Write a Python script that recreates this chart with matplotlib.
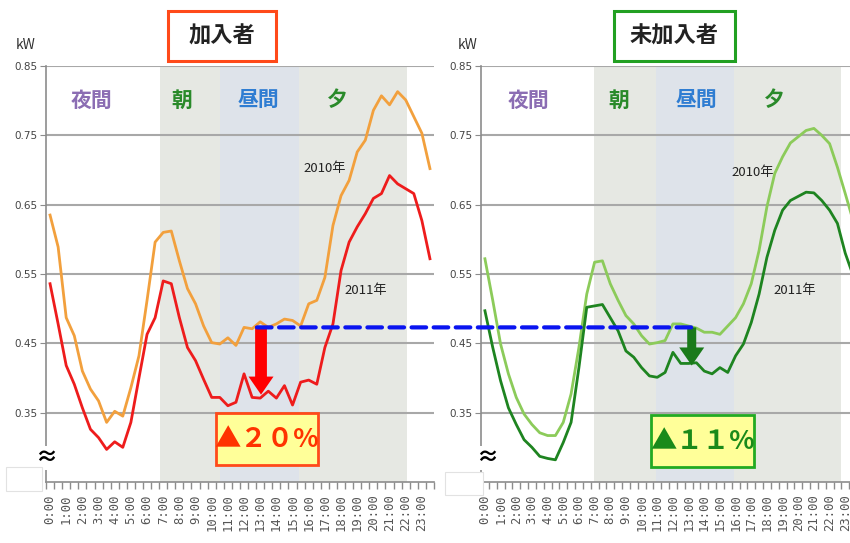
import numpy as np
import matplotlib
matplotlib.use('Agg')
import matplotlib.pyplot as plt
from matplotlib.patches import Rectangle, ConnectionPatch

plt.rcParams['font.family'] = ['Noto Sans CJK JP', 'DejaVu Sans']

# ---------------- data ----------------
hour_labels = [f"{h}:00" for h in range(24)]
slots = np.arange(48)  # half-hour slots 0:00 .. 23:30

join_2010 = [0.635, 0.589, 0.487, 0.461, 0.410, 0.384, 0.367, 0.336, 0.352, 0.345,
             0.386, 0.432, 0.512, 0.596, 0.610, 0.612, 0.569, 0.529, 0.507, 0.475,
             0.451, 0.449, 0.458, 0.447, 0.473, 0.471, 0.481, 0.473, 0.478, 0.485,
             0.483, 0.475, 0.507, 0.512, 0.545, 0.620, 0.663, 0.685, 0.726, 0.743,
             0.786, 0.807, 0.794, 0.813, 0.801, 0.777, 0.753, 0.702]
join_2011 = [0.536, 0.478, 0.418, 0.391, 0.357, 0.326, 0.314, 0.297, 0.308, 0.300,
             0.336, 0.400, 0.463, 0.487, 0.540, 0.536, 0.487, 0.444, 0.425, 0.398,
             0.372, 0.372, 0.360, 0.365, 0.406, 0.372, 0.371, 0.381, 0.371, 0.389,
             0.361, 0.394, 0.397, 0.391, 0.444, 0.478, 0.555, 0.596, 0.618, 0.637,
             0.659, 0.666, 0.692, 0.680, 0.673, 0.666, 0.627, 0.572]
nonjoin_2010 = [0.572, 0.512, 0.449, 0.406, 0.372, 0.348, 0.333, 0.321, 0.317, 0.317,
                0.336, 0.377, 0.444, 0.521, 0.567, 0.569, 0.536, 0.512, 0.490, 0.478,
                0.461, 0.449, 0.451, 0.454, 0.478, 0.478, 0.475, 0.472, 0.466, 0.466,
                0.463, 0.475, 0.487, 0.507, 0.536, 0.584, 0.647, 0.695, 0.719, 0.739,
                0.748, 0.757, 0.760, 0.750, 0.738, 0.704, 0.666, 0.627]
nonjoin_2011 = [0.497, 0.444, 0.396, 0.357, 0.333, 0.311, 0.300, 0.287, 0.284, 0.282,
                0.307, 0.336, 0.415, 0.502, 0.504, 0.506, 0.487, 0.468, 0.439, 0.430,
                0.415, 0.403, 0.401, 0.408, 0.437, 0.421, 0.421, 0.422, 0.410, 0.406,
                0.415, 0.408, 0.432, 0.449, 0.480, 0.521, 0.574, 0.613, 0.642, 0.656,
                0.662, 0.668, 0.667, 0.656, 0.642, 0.623, 0.580, 0.548]

panel_titles = ['加入者', '未加入者']
period_labels = ['夜間', '朝', '昼間', '夕']
year_labels = ['2010年', '2011年']
reduction_labels = ['▲２０%', '▲１１%']
y_ticks = [0.35, 0.45, 0.55, 0.65, 0.75, 0.85]
unit_label = 'kW'

# ---------------- layout ----------------
W, H = 850, 543
fig = plt.figure(figsize=(W / 100, H / 100), dpi=100)


def px_axes(x0, x1, y0, y1):
    return fig.add_axes([x0 / W, 1 - y1 / H, (x1 - x0) / W, (y1 - y0) / H])


ax1 = px_axes(46, 434, 66, 482)
ax2 = px_axes(481, 857, 66, 482)

period_colors = ['#8B6DB3', '#2A8A2A', '#2F7DD2', '#2A8A2A']

panels = [
    dict(ax=ax1, s10=join_2010, s11=join_2011, c10='#F2A03D', c11='#EE1C1C',
         grey=(13.6, 44.1), blue=(21.0, 30.8), lab_x=[5.15, 16.3, 25.8, 35.5],
         y10=(34.0, 0.702), y11=(39.1, 0.526), box=(20.5, 33.1, 0.275, 0.349),
         box_edge='#FF4A1A', box_text='#FF3300', arrow_x=26.1, arrow=(0.475, 0.376),
         arrow_col='#FF0000', shaft=8.5, title_box=(168, 276), title_edge='#FF4A1A',
         kw_x=26, approx_x=0.0),
    dict(ax=ax2, s10=nonjoin_2010, s11=nonjoin_2011, c10='#8CCB5A', c11='#1E8420',
         grey=(13.96, 45.5), blue=(21.8, 31.8), lab_x=[5.6, 17.1, 27.0, 37.0],
         y10=(34.2, 0.696), y11=(39.5, 0.526), box=(21.2, 34.3, 0.272, 0.346),
         box_edge='#22AA22', box_text='#1A8A1A', arrow_x=26.4, arrow=(0.473, 0.418),
         arrow_col='#1A7A1A', shaft=6.5, title_box=(614, 735), title_edge='#22A022',
         kw_x=468, approx_x=0.016),
]

for i, p in enumerate(panels):
    ax = p['ax']
    ax.set_xlim(-0.5, 47.5)
    ax.set_ylim(0.25, 0.85)
    ax.axvspan(*p['grey'], color='#E6E8E3', zorder=0.2, lw=0)
    ax.axvspan(*p['blue'], color='#DEE3EA', zorder=0.3, lw=0)
    ax.set_axisbelow(True)
    ax.grid(axis='y', color='#A8A8A8', lw=1.5, zorder=0.5)
    ax.set_facecolor('white')

    ax.plot(slots, p['s10'], color=p['c10'], lw=2.0, zorder=3)
    ax.plot(slots, p['s11'], color=p['c11'], lw=2.0, zorder=3)

    for sp in ['top', 'right']:
        ax.spines[sp].set_visible(False)
    for sp in ['left', 'bottom']:
        ax.spines[sp].set_color('#8C8C8C')
        ax.spines[sp].set_linewidth(1.2)

    ax.set_yticks(y_ticks)
    ax.set_yticklabels([f"{v:.2f}" for v in y_ticks], fontsize=7.5, color='#444444',
                       family=['Liberation Sans Narrow', 'DejaVu Sans'])
    ax.tick_params(axis='y', length=4, color='#8C8C8C', pad=2)

    ax.set_xticks(np.arange(-0.5, 48, 1))
    ax.set_xticklabels([])
    ax.tick_params(axis='x', which='major', length=5, color='#8C8C8C', width=1)
    ax.set_xticks(slots[::2], minor=True)
    ax.set_xticklabels(hour_labels, minor=True, rotation=90, fontsize=8.8,
                       color='#555555', family='DejaVu Sans Mono')
    ax.tick_params(axis='x', which='minor', length=0, pad=9)

    for lab, lx, col in zip(period_labels, p['lab_x'], period_colors):
        ax.text(lx, 0.801, lab, color=col, fontsize=15, fontweight='bold',
                ha='center', va='center', zorder=4)

    ax.text(*p['y10'], year_labels[0], fontsize=9.5, color='#222222', ha='center',
            va='center', zorder=4)
    ax.text(*p['y11'], year_labels[1], fontsize=9.5, color='#222222', ha='center',
            va='center', zorder=4)

    bx0, bx1, by0, by1 = p['box']
    ax.add_patch(Rectangle((bx0, by0), bx1 - bx0, by1 - by0, facecolor='#FFFF99',
                           edgecolor=p['box_edge'], lw=2, zorder=5))
    ax.text((bx0 + bx1) / 2, (by0 + by1) / 2, reduction_labels[i], color=p['box_text'],
            fontsize=19, fontweight='bold', ha='center', va='center', zorder=6)

    ax.annotate('', xy=(p['arrow_x'], p['arrow'][1]), xytext=(p['arrow_x'], p['arrow'][0]),
                arrowprops=dict(width=p['shaft'], headwidth=18, headlength=13,
                                facecolor=p['arrow_col'], edgecolor='none', shrink=0),
                zorder=6)

    ax.text(p['approx_x'], 0.285, '≈', fontsize=16, fontweight='bold', ha='center',
            va='center', transform=ax.get_yaxis_transform(), zorder=7,
            bbox=dict(facecolor='white', edgecolor='none', pad=0.5))

    # title box
    tx0, tx1 = p['title_box']
    fig.add_artist(Rectangle((tx0 / W, 1 - 61 / H), (tx1 - tx0) / W, 50 / H,
                             transform=fig.transFigure, facecolor='white',
                             edgecolor=p['title_edge'], lw=2.2))
    fig.text((tx0 + tx1) / 2 / W, 1 - 36 / H, panel_titles[i],
             fontsize=16, fontweight='bold', color='#222222', ha='center', va='center')
    fig.text(p['kw_x'] / W, 1 - 45 / H, unit_label, fontsize=10, color='#333333',
             ha='center', va='center')

# blue dashed reference line spanning both panels
con = ConnectionPatch(xyA=(25.6, 0.473), coordsA=ax1.transData,
                      xyB=(27.2, 0.473), coordsB=ax2.transData,
                      color='#0A14F0', lw=3, linestyle=(0, (3.5, 1.8)), zorder=8)
fig.add_artist(con)

# small blank boxes near bottom-left corners
for (x0, y0, x1, y1) in [(6, 467, 42, 491), (445, 472, 483, 495)]:
    fig.add_artist(Rectangle((x0 / W, 1 - y1 / H), (x1 - x0) / W, (y1 - y0) / H,
                             transform=fig.transFigure, facecolor='white',
                             edgecolor='#E2E2E2', lw=0.8, zorder=9))

fig.savefig('out.png', dpi=100)
